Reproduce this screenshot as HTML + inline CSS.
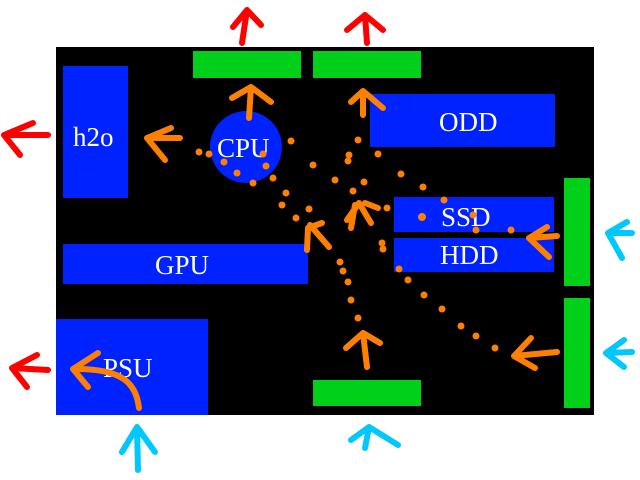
<!DOCTYPE html>
<html><head><meta charset="utf-8"><style>
html,body{margin:0;padding:0;background:#fff;width:640px;height:480px;overflow:hidden}
svg{display:block}
text{font-family:"Liberation Serif",serif;fill:#fff}
</style></head><body>
<svg width="640" height="480" viewBox="0 0 640 480">
<rect x="56" y="47" width="538" height="368" fill="#000"/>
<g fill="#00d01a">
<rect x="193" y="51" width="108" height="27"/>
<rect x="313" y="51" width="108" height="27"/>
<rect x="313" y="380" width="108" height="26"/>
<rect x="564" y="178" width="26" height="108"/>
<rect x="564" y="298" width="26" height="110"/>
</g>
<g fill="#0022ff">
<rect x="63" y="66" width="65" height="132"/>
<ellipse cx="246" cy="147" rx="36" ry="36"/>
<rect x="370" y="94" width="185" height="53"/>
<rect x="394" y="197" width="160" height="35"/>
<rect x="394" y="238" width="160" height="34"/>
<rect x="63" y="244" width="245" height="40"/>
<rect x="56" y="319" width="152" height="96"/>
</g>
<g font-size="27">
<text x="73" y="146">h2o</text>
<text x="217" y="157">CPU</text>
<text x="439" y="131">ODD</text>
<text x="441" y="226">SSD</text>
<text x="440" y="264">HDD</text>
<text x="155" y="274">GPU</text>
<text x="103" y="377">PSU</text>
</g>
<g fill="none" stroke="#ff0000" stroke-width="6" stroke-linecap="round" stroke-linejoin="round">
<path d="M242 43 L247 10 M233 27 L247 10 L261 25"/>
<path d="M367 43 L365 15 M347 30 L365 15 L383 30"/>
<path d="M48 135 L4 135 M33 123 L4 135 L20 155"/>
<path d="M48 370 L12 368 M37 355 L12 368 L27 387"/>
</g>
<g fill="none" stroke="#00c8ff" stroke-width="6" stroke-linecap="round" stroke-linejoin="round">
<path d="M138 470 L137 427 M122 452 L137 427 L155 452"/>
<path d="M365 448 L369 427 M351 440 L369 427 L398 445"/>
<path d="M632 233 L608 233 M627 222 L608 233 L622 258"/>
<path d="M632 352 L606 353 M624 340 L606 353 L624 367"/>
</g>
<g fill="none" stroke="#ff8000" stroke-width="6" stroke-linecap="round" stroke-linejoin="round">
<path d="M249 118 L251 87 M232 98 L251 87 L271 102"/>
<path d="M363 115 L363 91 M351 102 L363 91 L383 108"/>
<path d="M180 138 L147 138 M171 128 L147 138 L165 160"/>
<path d="M139 408 C136 385 125 368 73 369 M98 353 L73 369 L88 387"/>
<path d="M329 247 L310 225 M307 250 L308 228 L322 223"/>
<path d="M351 228 L355 205 M347 220 L359 203 L371 223 M365 203 L378 208"/>
<path d="M367 367 L363 333 M346 348 L363 333 L380 343"/>
<path d="M557 236 L529 238 M547 227 L529 238 L549 257"/>
<path d="M557 352 L514 356 M531 338 L514 356 L535 368"/>
</g>
<g fill="#ff8000">
<circle cx="199" cy="152" r="3.5"/><circle cx="209" cy="154" r="3.5"/><circle cx="224" cy="162" r="3.5"/>
<circle cx="237" cy="173" r="3.5"/><circle cx="253" cy="183" r="3.5"/><circle cx="263" cy="154" r="3.5"/>
<circle cx="266" cy="166" r="3.5"/><circle cx="273" cy="178" r="3.5"/><circle cx="291" cy="141" r="3.5"/>
<circle cx="313" cy="165" r="3.5"/><circle cx="286" cy="193" r="3.5"/><circle cx="282" cy="205" r="3.5"/>
<circle cx="296" cy="218" r="3.5"/><circle cx="309" cy="209" r="3.5"/><circle cx="335" cy="180" r="3.5"/>
<circle cx="353" cy="191" r="3.5"/><circle cx="364" cy="182" r="3.5"/><circle cx="378" cy="154" r="3.5"/>
<circle cx="358" cy="140" r="3.5"/><circle cx="349" cy="155" r="3.5"/><circle cx="348" cy="161" r="3.5"/>
<circle cx="401" cy="174" r="3.5"/><circle cx="423" cy="187" r="3.5"/><circle cx="444" cy="200" r="3.5"/>
<circle cx="422" cy="217" r="4"/><circle cx="473" cy="215" r="3.5"/><circle cx="476" cy="230" r="3.5"/>
<circle cx="511" cy="230" r="3.5"/><circle cx="382" cy="243" r="3.5"/><circle cx="383" cy="249" r="3.5"/>
<circle cx="399" cy="269" r="3.5"/><circle cx="408" cy="280" r="3.5"/><circle cx="424" cy="295" r="3.5"/>
<circle cx="442" cy="309" r="3.5"/><circle cx="461" cy="326" r="3.5"/><circle cx="476" cy="336" r="3.5"/>
<circle cx="495" cy="348" r="3.5"/><circle cx="340" cy="262" r="3.5"/><circle cx="343" cy="271" r="3.5"/>
<circle cx="348" cy="282" r="3.5"/><circle cx="351" cy="300" r="3.5"/><circle cx="358" cy="318" r="3.5"/>
<circle cx="387" cy="208" r="3.5"/>
</g>
</svg>
</body></html>
